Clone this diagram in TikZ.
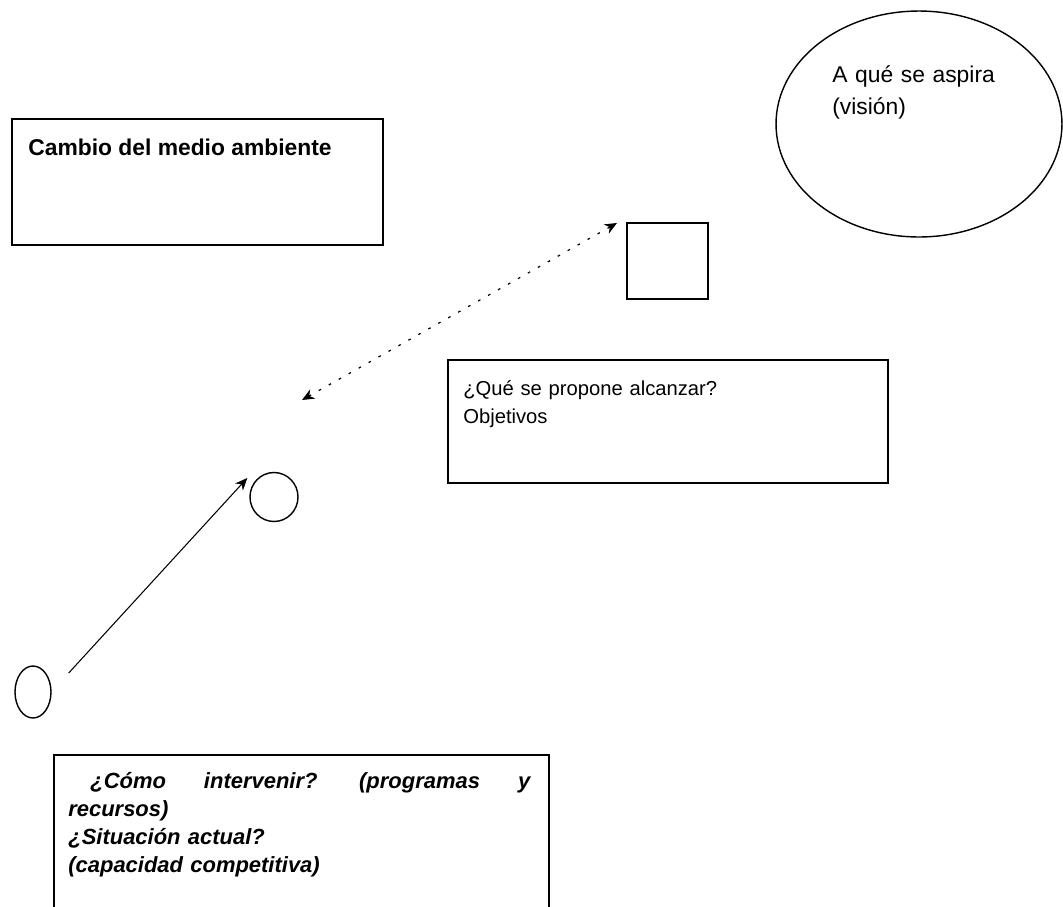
\documentclass[tikz,border=0pt]{standalone}
\usepackage{fontspec}
\setmainfont{Liberation Sans}
\usetikzlibrary{shapes.geometric, arrows.meta, positioning, calc}

\begin{document}
\begin{tikzpicture}[
    x=0.02cm, y=-0.02cm,
    box/.style={rectangle, draw, line width=1pt, inner sep=0pt},
    oval/.style={ellipse, draw, line width=0.8pt, inner sep=0pt},
    txt/.style={inner sep=0pt, anchor=base west, align=left},
    arrow/.style={-{Stealth[length=7pt, width=6pt]}, line width=0.6pt},
    dotarrow/.style={{Stealth[length=7pt, width=6pt]}-{Stealth[length=7pt, width=6pt]}, line width=0.7pt, dash pattern=on 1.5pt off 5pt}
  ]
  \useasboundingbox (0,0) rectangle (1063,907);

  % boxes and shapes
  \node[box, anchor=north west, minimum width=7.42cm, minimum height=2.52cm] (env) at (11,118) {};
  \node[oval, minimum width=5.72cm, minimum height=4.52cm] (vision) at (919,124) {};
  \node[box, anchor=north west, minimum width=1.62cm, minimum height=1.52cm] (sq) at (626,222) {};
  \node[box, anchor=north west, minimum width=8.8cm, minimum height=2.46cm] (goal) at (447,359) {};
  \node[oval, minimum width=0.96cm, minimum height=0.98cm] (circ) at (274,497) {};
  \node[oval, minimum width=0.72cm, minimum height=1.04cm] (small) at (33,692) {};
  \node[box, anchor=north west, minimum width=9.9cm, minimum height=4cm] (act) at (53,754) {};

  % texts
  \node[txt, font=\fontsize{13}{16}\selectfont\bfseries] (envtxt) at ($(env.north west)+(17,37)$) {Cambio del medio ambiente};
  \node[txt, text width=4cm, font=\fontsize{13}{18.7}\selectfont] (vistxt) at ($(vision.center)+(-87,-42)$) {A qué se aspira\\(visión)};
  \node[txt, text width=8cm, font=\fontsize{11.5}{16}\selectfont] (goaltxt) at ($(goal.north west)+(16,36)$) {¿Qué se propone alcanzar?\\Objetivos};
  \node[txt, text width=9.24cm, font=\fontsize{12.5}{16}\selectfont\bfseries\itshape] (acttxt) at ($(act.north west)+(15,34)$)
    {\hspace*{0.44cm}¿Cómo \hfill intervenir? \hfill (programas \hfill y\\recursos)\\¿Situación actual?\\(capacidad competitiva)};

  % connectors
  \coordinate (d1) at ($(sq.north west)+(-9,1)$);
  \coordinate (d2) at (302,400);
  \draw[dotarrow] (d2) -- (d1);
  \coordinate (s1) at ($(small.east)+(17,-19)$);
  \coordinate (s2) at ($(circ.west)+(-2,-19)$);
  \draw[arrow] (s1) -- (s2);
\end{tikzpicture}
\end{document}
